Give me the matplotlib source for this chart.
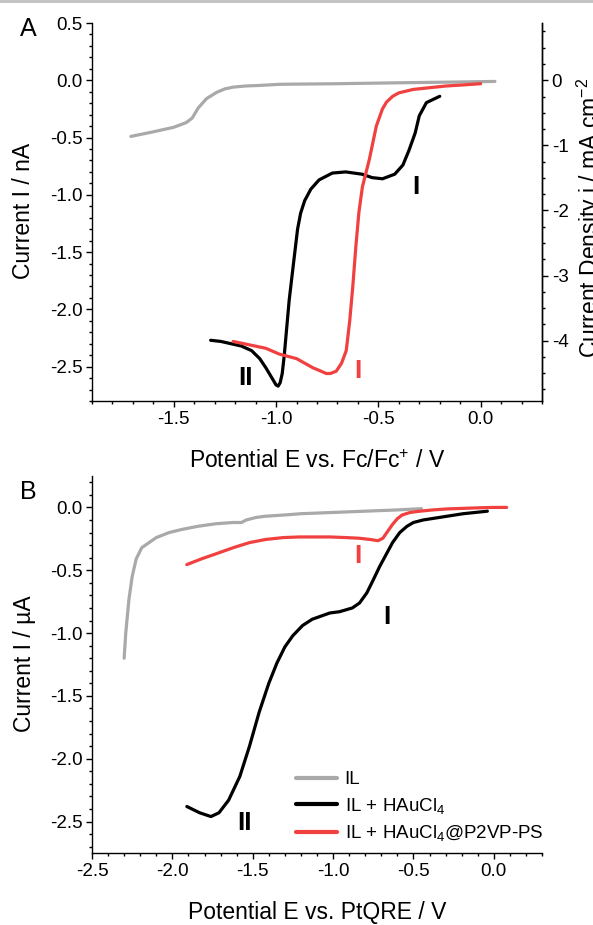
import matplotlib
matplotlib.use('Agg')
import matplotlib.pyplot as plt
from matplotlib.ticker import MultipleLocator
from matplotlib.patches import Rectangle

plt.rcParams['font.family'] = ['Liberation Sans', 'DejaVu Sans']
plt.rcParams['mathtext.fontset'] = 'custom'
plt.rcParams['mathtext.rm'] = 'Liberation Sans'
plt.rcParams['mathtext.it'] = 'Liberation Sans:italic'
plt.rcParams['mathtext.bf'] = 'Liberation Sans:bold'
plt.rcParams['axes.unicode_minus'] = False

# ---------------- Panel A data (E vs Fc/Fc+ / V, I / nA) ----------------
a_il_E = [-1.71, -1.60, -1.50, -1.44, -1.41, -1.38, -1.34, -1.29, -1.25, -1.21, -1.15,
          -1.08, -0.98, -0.70, -0.40, -0.10, 0.07]
a_il_I = [-0.49, -0.45, -0.41, -0.37, -0.33, -0.24, -0.16, -0.105, -0.075, -0.06, -0.05,
          -0.045, -0.035, -0.03, -0.022, -0.015, -0.01]

a_au_E = [-0.20, -0.265, -0.30, -0.32, -0.35, -0.38, -0.42, -0.48, -0.53, -0.58, -0.66,
          -0.725, -0.79, -0.83, -0.86, -0.88, -0.895, -0.915, -0.936, -0.95, -0.96, -0.97,
          -0.98, -0.99, -1.00, -1.02, -1.05, -1.08, -1.12, -1.17, -1.22, -1.27, -1.32]
a_au_I = [-0.14, -0.195, -0.31, -0.46, -0.61, -0.74, -0.82, -0.86, -0.85, -0.82, -0.80,
          -0.81, -0.87, -0.95, -1.05, -1.16, -1.30, -1.60, -1.92, -2.20, -2.40, -2.56,
          -2.64, -2.67, -2.66, -2.60, -2.51, -2.43, -2.36, -2.32, -2.30, -2.28, -2.27]

a_np_E = [0.00, -0.08, -0.17, -0.25, -0.33, -0.40, -0.43, -0.46, -0.48, -0.51, -0.544,
          -0.578, -0.595, -0.61, -0.625, -0.64, -0.657, -0.68, -0.706, -0.735, -0.755, -0.78,
          -0.82, -0.90, -0.985, -1.05, -1.13, -1.21]
a_np_I = [-0.03, -0.04, -0.05, -0.065, -0.08, -0.11, -0.14, -0.19, -0.25, -0.40, -0.69,
          -0.93, -1.15, -1.45, -1.80, -2.10, -2.36, -2.47, -2.54, -2.56, -2.56, -2.54,
          -2.51, -2.43, -2.39, -2.34, -2.31, -2.28]

# ---------------- Panel B data (E vs PtQRE / V, I / uA) ----------------
b_il_E = [-2.30, -2.29, -2.27, -2.25, -2.225, -2.19, -2.10, -2.02, -1.94, -1.84, -1.73,
          -1.62, -1.57, -1.54, -1.48, -1.42, -1.30, -1.20, -1.0, -0.8, -0.6, -0.45]
b_il_I = [-1.20, -1.00, -0.73, -0.55, -0.41, -0.32, -0.24, -0.20, -0.175, -0.15, -0.13,
          -0.12, -0.12, -0.10, -0.08, -0.07, -0.06, -0.05, -0.04, -0.03, -0.02, -0.01]

b_au_E = [-0.04, -0.19, -0.29, -0.44, -0.50, -0.54, -0.585, -0.63, -0.67, -0.71, -0.755,
          -0.79, -0.835, -0.88, -0.96, -1.02, -1.13, -1.19, -1.25, -1.30, -1.35, -1.40,
          -1.46, -1.52, -1.58, -1.65, -1.71, -1.76, -1.83, -1.91]
b_au_I = [-0.03, -0.05, -0.07, -0.10, -0.12, -0.15, -0.20, -0.28, -0.375, -0.47, -0.59,
          -0.68, -0.76, -0.80, -0.83, -0.84, -0.89, -0.94, -1.02, -1.11, -1.24, -1.40,
          -1.63, -1.90, -2.14, -2.33, -2.43, -2.46, -2.43, -2.38]

b_np_E = [-1.91, -1.82, -1.73, -1.62, -1.52, -1.42, -1.31, -1.21, -1.13, -1.02, -0.92,
          -0.84, -0.77, -0.72, -0.69, -0.66, -0.63, -0.60, -0.57, -0.52, -0.46, -0.38,
          -0.29, -0.18, -0.09, 0.0, 0.08]
b_np_I = [-0.455, -0.41, -0.37, -0.32, -0.28, -0.255, -0.24, -0.235, -0.235, -0.235, -0.24,
          -0.245, -0.255, -0.265, -0.245, -0.19, -0.135, -0.09, -0.06, -0.04, -0.03, -0.02,
          -0.012, -0.007, -0.003, 0.0, 0.0]

legend_labels = ['IL', 'IL + HAuCl$_4$', 'IL + HAuCl$_4$@P2VP-PS']
density_factor = 1.76   # mA cm^-2 per nA (right axis of panel A)

GRAY = '#a9a9a9'
BLACK = '#000000'
RED = '#f0403f'
LW = 2.3
TICK_FS = 13.5
LABEL_FS = 16.5

W, H = 593, 925
fig = plt.figure(figsize=(W / 100, H / 100), dpi=100)


def fx(px):
    return px / W


def fy(py):
    return 1 - py / H


# thin grey strip on top edge
fig.add_artist(Rectangle((0, fy(2.5)), 1, 1 - fy(2.5), transform=fig.transFigure,
                         color='#c4c4c4', lw=0))

axA = fig.add_axes([fx(92), fy(401), fx(542) - fx(92), fy(23) - fy(401)])
axB = fig.add_axes([fx(92), fy(853), fx(542) - fx(92), fy(476) - fy(853)])


def style(ax):
    ax.spines['top'].set_visible(False)
    for s in ax.spines.values():
        s.set_linewidth(1.0)
    ax.tick_params(which='both', direction='out', width=1.0, labelsize=TICK_FS, pad=3)
    ax.tick_params(which='major', length=4)
    ax.tick_params(which='minor', length=2.5)
    ax.xaxis.set_minor_locator(MultipleLocator(0.1))
    ax.yaxis.set_minor_locator(MultipleLocator(0.1))
    ax.xaxis.set_major_locator(MultipleLocator(0.5))
    ax.yaxis.set_major_locator(MultipleLocator(0.5))


kw = dict(lw=LW, solid_joinstyle='round', solid_capstyle='round')

# ---- Panel A ----
style(axA)
axA.plot(a_il_E, a_il_I, color=GRAY, **kw)
axA.plot(a_au_E, a_au_I, color=BLACK, **kw)
axA.plot(a_np_E, a_np_I, color=RED, **kw)
axA.set_xlim(-1.9, 0.3)
axA.set_ylim(-2.8, 0.5)
axA.text(-0.315, -0.93, 'I', fontsize=19, fontweight='bold', ha='center', va='center')
axA.text(-1.15, -2.60, 'II', fontsize=19, fontweight='bold', ha='center', va='center')
axA.text(-0.60, -2.54, 'I', fontsize=19, fontweight='bold', ha='center', va='center', color=RED)

axA2 = axA.twinx()
axA2.spines['top'].set_visible(False)
axA2.spines['left'].set_visible(False)
axA2.spines['bottom'].set_visible(False)
axA2.spines['right'].set_linewidth(1.0)
axA2.set_ylim(-2.8 * density_factor, 0.5 * density_factor)
axA2.yaxis.set_major_locator(MultipleLocator(1))
axA2.yaxis.set_minor_locator(MultipleLocator(0.25))
axA2.tick_params(which='both', direction='out', width=1.0, labelsize=TICK_FS, pad=3)
axA2.tick_params(which='major', length=4)
axA2.tick_params(which='minor', length=2.5)

# ---- Panel B ----
style(axB)
axB.spines['right'].set_visible(False)
h1, = axB.plot(b_il_E, b_il_I, color=GRAY, **kw)
h2, = axB.plot(b_au_E, b_au_I, color=BLACK, **kw)
h3, = axB.plot(b_np_E, b_np_I, color=RED, **kw)
axB.set_xlim(-2.5, 0.3)
axB.set_ylim(-2.75, 0.25)
axB.text(-0.848, -0.39, 'I', fontsize=19, fontweight='bold', ha='center', va='center', color=RED)
axB.text(-0.667, -0.87, 'I', fontsize=19, fontweight='bold', ha='center', va='center')
axB.text(-1.55, -2.51, 'II', fontsize=19, fontweight='bold', ha='center', va='center')

leg = axB.legend([h1, h2, h3], legend_labels, loc='upper left',
                 bbox_to_anchor=(fx(296), fy(771)), bbox_transform=fig.transFigure,
                 frameon=False, fontsize=13.5, handlelength=2.2, handletextpad=0.4,
                 borderpad=0, borderaxespad=0, labelspacing=0.4)
for ln in leg.get_lines():
    ln.set_linewidth(3.0)

# ---- Labels ----
fig.text(fx(28), fy(29), 'A', fontsize=18, ha='center', va='center')
fig.text(fx(28), fy(492), 'B', fontsize=18, ha='center', va='center')
fig.text(fx(24), fy(211), 'Current I / nA', fontsize=LABEL_FS, rotation=90, ha='center', va='center')
fig.text(fx(24), fy(664), 'Current I / µA', fontsize=LABEL_FS, rotation=90, ha='center', va='center')
fig.text(fx(317), fy(462), 'Potential E vs. Fc/Fc$^{+}$ / V', fontsize=LABEL_FS, ha='center', va='center')
fig.text(fx(317), fy(913), 'Potential E vs. PtQRE / V', fontsize=LABEL_FS, ha='center', va='center')
fig.text(fx(590), fy(218), 'Current Density j / mA cm$^{-2}$', fontsize=LABEL_FS, rotation=90,
         ha='center', va='center')

fig.savefig('out.png', dpi=100)
